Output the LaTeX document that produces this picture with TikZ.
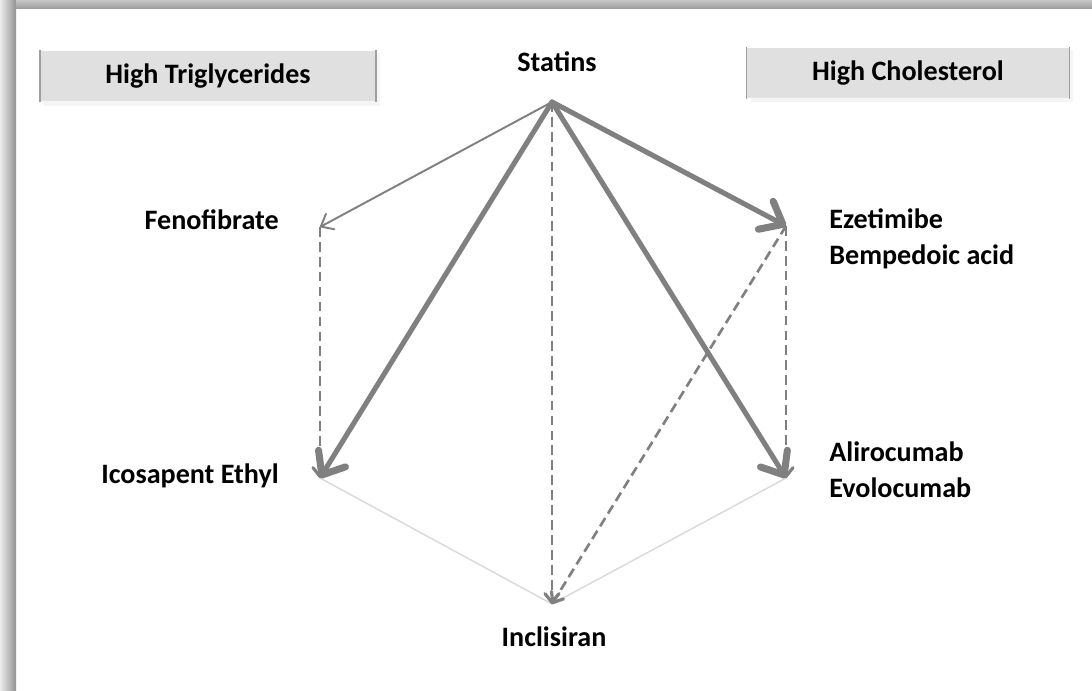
\documentclass[tikz,border=0pt]{standalone}
\usepackage{fontspec}
\setmainfont{Carlito}
\usetikzlibrary{arrows.meta,calc,positioning}

\begin{document}
\begin{tikzpicture}[x=0.02cm,y=-0.02cm,
    lbl/.style={font=\bfseries\fontsize{16}{20.5}\selectfont, text=black, inner sep=0pt},
    catbox/.style={lbl, fill=gray!24, minimum height=1.02cm},
    boxedge/.style={draw=gray!75, line width=0.9pt},
    strong/.style={draw=gray, line width=2.9pt, line cap=round, line join=round,
        -{Straight Barb[length=11pt,width=18pt,line width=4pt,round]}},
    weak/.style={draw=gray, line width=1.1pt, -{Straight Barb[length=6pt,width=10pt,round]}},
    trial/.style={draw=gray, line width=1.5pt, dash pattern=on 5.5pt off 3pt,
        -{Straight Barb[length=5pt,width=8pt,line width=1.8pt,round]}},
    faint/.style={draw=gray!30, line width=0.8pt}]
    \useasboundingbox (0,0) rectangle (1092,690);
    \fill[white] (0,0) rectangle (1092,690);
    %Frame
    \shade[left color=gray!15, right color=gray!85] (0,0) rectangle (16,690);
    \shade[top color=gray!45, bottom color=gray!75] (16,0) rectangle (1092,8);
    %Points
    \coordinate (stat) at (552,102);
    \coordinate (feno) at (320,227);
    \coordinate (ezet) at (786,226);
    \coordinate (icos) at (320,478);
    \coordinate (aliro) at (786,478);
    \coordinate (incl) at (552,604);
    %Boxes
    \fill[gray!8] (44,53) rectangle (380,106);
    \fill[gray!8] (751,50) rectangle (1073,102);
    \node[catbox, minimum width=6.7cm] (trig) at (208,76) {High Triglycerides};
    \node[catbox, minimum width=6.45cm] (chol) at (908,73) {High Cholesterol};
    \draw[boxedge] (trig.north west) -- (trig.south west);
    \draw[boxedge] (trig.north east) -- (trig.south east);
    \draw[boxedge] (chol.north west) -- (chol.south west);
    \draw[boxedge] (chol.north east) -- (chol.south east);
    %Draw labels
    \node[lbl] (statlbl) at (557,62) {Statins};
    \node[lbl, anchor=east] (fenolbl) at (279,220) {Fenofibrate};
    \node[lbl, anchor=west, align=left] (ezetlbl) at (829,239) {Ezetimibe\\Bempedoic acid};
    \node[lbl, anchor=east] (icoslbl) at (279,476) {Icosapent Ethyl};
    \node[lbl, anchor=west, align=left] (alirolbl) at (829,470) {Alirocumab\\Evolocumab};
    \node[lbl] (incllbl) at (554,637) {Inclisiran};
    %Draw lines
    \draw[faint] (icos) -- (incl) -- (aliro);
    \draw[trial] (feno) -- (icos);
    \draw[trial] (ezet) -- (aliro);
    \draw[trial] (ezet) -- (incl);
    \draw[trial] (stat) -- (incl);
    \draw[weak] (stat) -- (feno);
    \draw[strong] (stat) -- (icos);
    \draw[strong] (stat) -- (aliro);
    \draw[strong] (stat) -- (ezet);
\end{tikzpicture}
\end{document}
